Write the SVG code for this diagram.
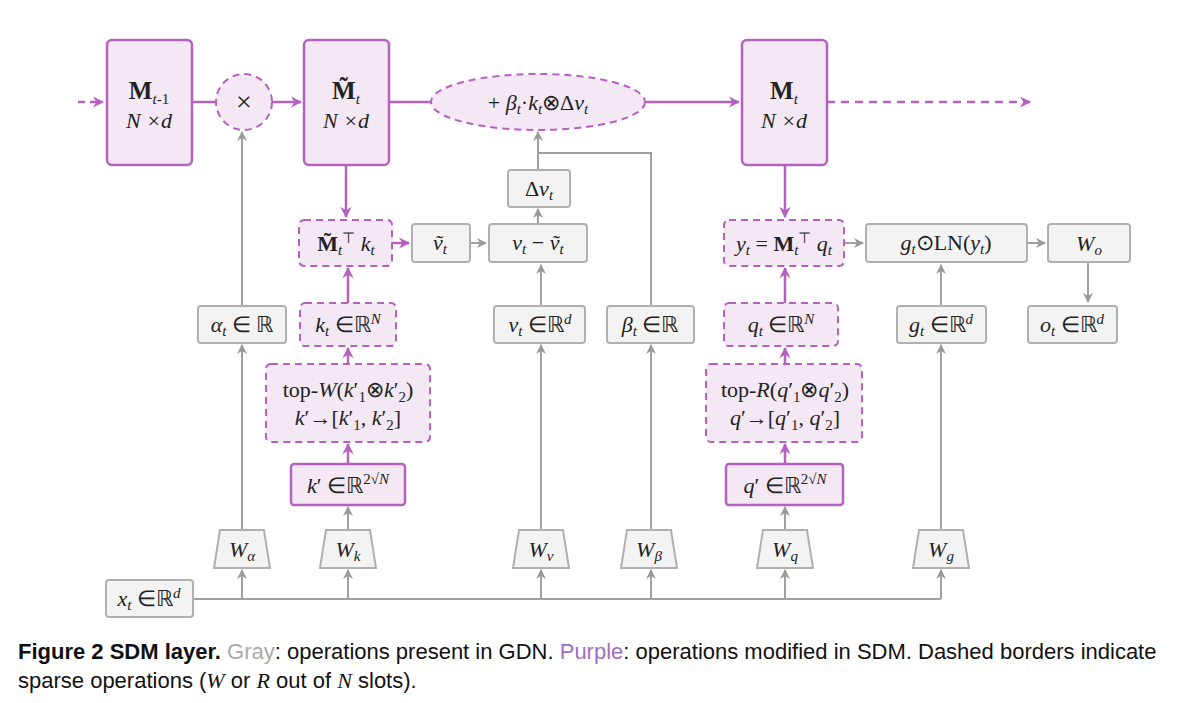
<svg xmlns="http://www.w3.org/2000/svg" width="1200" height="703" viewBox="0 0 1200 703">
<style>
.p{fill:#f4e8f5;stroke:#b561c0;stroke-width:2.5}
.pd{fill:#f4e8f5;stroke:#b561c0;stroke-width:2;stroke-dasharray:7 5}
.g{fill:#f3f3f3;stroke:#b0b0b0;stroke-width:2}
.t{font-family:"Liberation Serif",serif;font-size:22px;fill:#222;text-anchor:middle}
.i{font-style:italic}
.b{font-weight:bold}
.s{font-size:15px}
.lg{stroke:#a0a0a0;stroke-width:2;fill:none}
.lp{stroke:#b561c0;stroke-width:2.5;fill:none}
.cap{font-family:"Liberation Sans",sans-serif;font-size:22px;fill:#111}
</style>
<defs>
<marker id="ag" viewBox="0 0 10 10" refX="9" refY="5" markerWidth="5" markerHeight="5" orient="auto"><path d="M0,0 L10,5 L0,10 L3,5z" fill="#999"/></marker>
<marker id="ap" viewBox="0 0 10 10" refX="9" refY="5" markerWidth="4.5" markerHeight="4.5" orient="auto"><path d="M0,0 L10,5 L0,10 L3,5z" fill="#b561c0"/></marker>
</defs>
<rect width="1200" height="703" fill="#fff"/>
<g id="connectors">
<path class="lp" d="M78,102 H103" stroke-dasharray="7 5" stroke-width="2" marker-end="url(#ap)"/>
<path class="lp" d="M192,102 H216"/>
<path class="lp" d="M272,102 H301" marker-end="url(#ap)"/>
<path class="lp" d="M389,102 H431"/>
<path class="lp" d="M645,102 H739" marker-end="url(#ap)"/>
<path class="lp" d="M827,102 H1030" stroke-dasharray="8 6" stroke-width="2" marker-end="url(#ap)"/>
<path class="lp" d="M346,165 V217" stroke-width="2" marker-end="url(#ap)"/>
<path class="lp" d="M785,165 V217" stroke-width="2" marker-end="url(#ap)"/>
<path class="lp" d="M392,243 H409" stroke-width="2" marker-end="url(#ap)"/>
<path class="lg" d="M470,243 H486" marker-end="url(#ag)"/>
<path class="lg" d="M538,224 V209" marker-end="url(#ag)"/>
<path class="lg" d="M538,170 V132" marker-end="url(#ag)"/>
<path class="lg" d="M651,306 V153 H538"/>
<path class="lg" d="M242,306 V132" marker-end="url(#ag)"/>
<path class="lp" d="M348,303 V268" stroke-width="2" marker-end="url(#ap)"/>
<path class="lp" d="M785,303 V268" stroke-width="2" marker-end="url(#ap)"/>
<path class="lp" d="M348,364 V348" stroke-width="2" marker-end="url(#ap)"/>
<path class="lp" d="M785,364 V348" stroke-width="2" marker-end="url(#ap)"/>
<path class="lp" d="M348,464 V444" stroke-width="2" marker-end="url(#ap)"/>
<path class="lp" d="M785,464 V444" stroke-width="2" marker-end="url(#ap)"/>
<path class="lg" d="M844,243 H863" marker-end="url(#ag)"/>
<path class="lg" d="M1027,243 H1045" marker-end="url(#ag)"/>
<path class="lg" d="M1088,262 V302" marker-end="url(#ag)"/>
<path class="lg" d="M541,306 V265" marker-end="url(#ag)"/>
<path class="lg" d="M941,306 V265" marker-end="url(#ag)"/>
<path class="lg" d="M242,530 V345" marker-end="url(#ag)"/>
<path class="lg" d="M348,530 V507" marker-end="url(#ag)"/>
<path class="lg" d="M785,530 V507" marker-end="url(#ag)"/>
<path class="lg" d="M541,530 V345" marker-end="url(#ag)"/>
<path class="lg" d="M651,530 V345" marker-end="url(#ag)"/>
<path class="lg" d="M941,530 V345" marker-end="url(#ag)"/>
<path class="lg" d="M193,599 H941"/>
<path class="lg" d="M242,599 V570" marker-end="url(#ag)"/>
<path class="lg" d="M348,599 V570" marker-end="url(#ag)"/>
<path class="lg" d="M541,599 V570" marker-end="url(#ag)"/>
<path class="lg" d="M651,599 V570" marker-end="url(#ag)"/>
<path class="lg" d="M785,599 V570" marker-end="url(#ag)"/>
<path class="lg" d="M941,599 V570" marker-end="url(#ag)"/>
</g>
<g id="Mprev"><rect class="p" x="107" y="40" width="85" height="125" rx="5"/><text class="t" x="149" y="99" style="font-size:25px"><tspan class="b">M</tspan><tspan class="i s" dy="5">t</tspan><tspan class="s">-1</tspan></text><text class="t i" x="149" y="128">N ×d</text></g>
<g id="mult"><circle class="pd" cx="244" cy="102" r="28"/><text class="t" x="244" y="111" style="font-size:28px">×</text></g>
<g id="Mtilde"><rect class="p" x="304" y="40" width="85" height="125" rx="5"/><text class="t" x="346" y="99" style="font-size:25px"><tspan class="b">M̃</tspan><tspan class="i s" dy="5">t</tspan></text><text class="t i" x="346" y="128">N ×d</text></g>
<g id="update"><ellipse class="pd" cx="538" cy="102" rx="107" ry="28"/><text class="t" x="538" y="110">+ <tspan class="i">β</tspan><tspan class="i s" dy="4">t</tspan><tspan dy="-4">·</tspan><tspan class="i">k</tspan><tspan class="i s" dy="4">t</tspan><tspan dy="-4">⊗Δ</tspan><tspan class="i">v</tspan><tspan class="i s" dy="4">t</tspan></text></g>
<g id="Mt"><rect class="p" x="742" y="40" width="85" height="125" rx="5"/><text class="t" x="784" y="99" style="font-size:25px"><tspan class="b">M</tspan><tspan class="i s" dy="5">t</tspan></text><text class="t i" x="784" y="128">N ×d</text></g>
<g id="dv"><rect class="g" x="508" y="170" width="62" height="37" rx="3"/><text class="t" x="539" y="196">Δ<tspan class="i">v</tspan><tspan class="i s" dy="4">t</tspan></text></g>
<g id="Mk"><rect class="pd" x="299" y="220" width="93" height="46" rx="5"/><text class="t" x="346" y="251"><tspan class="b">M̃</tspan><tspan class="i s" dy="4">t</tspan><tspan class="s" dy="-12">⊤</tspan><tspan class="i" dy="8"> k</tspan><tspan class="i s" dy="4">t</tspan></text></g>
<g id="vtil"><rect class="g" x="412" y="224" width="58" height="38" rx="3"/><text class="t i" x="440" y="250">ṽ<tspan class="s" dy="4">t</tspan></text></g>
<g id="vdiff"><rect class="g" x="489" y="224" width="98" height="38" rx="3"/><text class="t" x="538" y="250"><tspan class="i">v</tspan><tspan class="i s" dy="4">t</tspan><tspan dy="-4"> − </tspan><tspan class="i">ṽ</tspan><tspan class="i s" dy="4">t</tspan></text></g>
<g id="yt"><rect class="pd" x="724" y="220" width="120" height="46" rx="5"/><text class="t" x="784" y="251"><tspan class="i">y</tspan><tspan class="i s" dy="4">t</tspan><tspan dy="-4"> = </tspan><tspan class="b">M</tspan><tspan class="i s" dy="4">t</tspan><tspan class="s" dy="-12">⊤</tspan><tspan class="i" dy="8"> q</tspan><tspan class="i s" dy="4">t</tspan></text></g>
<g id="gln"><rect class="g" x="866" y="224" width="161" height="38" rx="3"/><text class="t" x="946" y="250"><tspan class="i">g</tspan><tspan class="i s" dy="4">t</tspan><tspan dy="-4">⊙LN(</tspan><tspan class="i">y</tspan><tspan class="i s" dy="4">t</tspan><tspan dy="-4">)</tspan></text></g>
<g id="Wo"><rect class="g" x="1048" y="224" width="82" height="38" rx="3"/><text class="t" x="1089" y="251"><tspan class="i">W</tspan><tspan class="i s" dy="4">o</tspan></text></g>
<g id="alpha"><rect class="g" x="198" y="306" width="88" height="37" rx="3"/><text class="t" x="242" y="332"><tspan class="i">α</tspan><tspan class="i s" dy="4">t</tspan><tspan dy="-4"> ∈ ℝ</tspan></text></g>
<g id="kt"><rect class="pd" x="300" y="303" width="96" height="43" rx="5"/><text class="t" x="348" y="332"><tspan class="i">k</tspan><tspan class="i s" dy="4">t</tspan><tspan dy="-4"> ∈ℝ</tspan><tspan class="i s" dy="-8">N</tspan></text></g>
<g id="vt"><rect class="g" x="494" y="306" width="91" height="37" rx="3"/><text class="t" x="540" y="332"><tspan class="i">v</tspan><tspan class="i s" dy="4">t</tspan><tspan dy="-4"> ∈ℝ</tspan><tspan class="i s" dy="-8">d</tspan></text></g>
<g id="beta"><rect class="g" x="607" y="306" width="87" height="37" rx="3"/><text class="t" x="650" y="332"><tspan class="i">β</tspan><tspan class="i s" dy="4">t</tspan><tspan dy="-4"> ∈ℝ</tspan></text></g>
<g id="qt"><rect class="pd" x="724" y="303" width="114" height="43" rx="5"/><text class="t" x="781" y="332"><tspan class="i">q</tspan><tspan class="i s" dy="4">t</tspan><tspan dy="-4"> ∈ℝ</tspan><tspan class="i s" dy="-8">N</tspan></text></g>
<g id="gt"><rect class="g" x="897" y="306" width="89" height="37" rx="3"/><text class="t" x="941" y="332"><tspan class="i">g</tspan><tspan class="i s" dy="4">t</tspan><tspan dy="-4"> ∈ℝ</tspan><tspan class="i s" dy="-8">d</tspan></text></g>
<g id="ot"><rect class="g" x="1028" y="306" width="89" height="37" rx="3"/><text class="t" x="1072" y="332"><tspan class="i">o</tspan><tspan class="i s" dy="4">t</tspan><tspan dy="-4"> ∈ℝ</tspan><tspan class="i s" dy="-8">d</tspan></text></g>
<g id="topW"><rect class="pd" x="266" y="364" width="164" height="78" rx="5"/><text class="t" x="348" y="397">top-<tspan class="i">W</tspan>(<tspan class="i">k</tspan>′<tspan class="s" dy="5">1</tspan><tspan dy="-5">⊗</tspan><tspan class="i">k</tspan>′<tspan class="s" dy="5">2</tspan><tspan dy="-5">)</tspan></text><text class="t" x="348" y="425"><tspan class="i">k</tspan>′→[<tspan class="i">k</tspan>′<tspan class="s" dy="5">1</tspan><tspan dy="-5">, </tspan><tspan class="i">k</tspan>′<tspan class="s" dy="5">2</tspan><tspan dy="-5">]</tspan></text></g>
<g id="kp"><rect class="p" x="291" y="464" width="114" height="41" rx="3" stroke-width="2"/><text class="t" x="348" y="493"><tspan class="i">k</tspan>′ ∈ℝ<tspan class="s" dy="-9">2√<tspan class="i">N</tspan></tspan></text></g>
<g id="topR"><rect class="pd" x="706" y="364" width="156" height="78" rx="5"/><text class="t" x="785" y="397">top-<tspan class="i">R</tspan>(<tspan class="i">q</tspan>′<tspan class="s" dy="5">1</tspan><tspan dy="-5">⊗</tspan><tspan class="i">q</tspan>′<tspan class="s" dy="5">2</tspan><tspan dy="-5">)</tspan></text><text class="t" x="785" y="425"><tspan class="i">q</tspan>′→[<tspan class="i">q</tspan>′<tspan class="s" dy="5">1</tspan><tspan dy="-5">, </tspan><tspan class="i">q</tspan>′<tspan class="s" dy="5">2</tspan><tspan dy="-5">]</tspan></text></g>
<g id="qp"><rect class="p" x="726" y="464" width="117" height="41" rx="3" stroke-width="2"/><text class="t" x="785" y="493"><tspan class="i">q</tspan>′ ∈ℝ<tspan class="s" dy="-9">2√<tspan class="i">N</tspan></tspan></text></g>
<g id="Walpha"><path class="g" d="M214,568 L220,530 H264 L270,568z"/><text class="t" x="242" y="557"><tspan class="i">W</tspan><tspan class="i s" dy="4">α</tspan></text></g>
<g id="Wk"><path class="g" d="M320,568 L326,530 H370 L376,568z"/><text class="t" x="348" y="557"><tspan class="i">W</tspan><tspan class="i s" dy="4">k</tspan></text></g>
<g id="Wv"><path class="g" d="M513,568 L519,530 H563 L569,568z"/><text class="t" x="541" y="557"><tspan class="i">W</tspan><tspan class="i s" dy="4">v</tspan></text></g>
<g id="Wbeta"><path class="g" d="M621,568 L627,530 H671 L677,568z"/><text class="t" x="649" y="557"><tspan class="i">W</tspan><tspan class="i s" dy="4">β</tspan></text></g>
<g id="Wq"><path class="g" d="M757,568 L763,530 H807 L813,568z"/><text class="t" x="785" y="557"><tspan class="i">W</tspan><tspan class="i s" dy="4">q</tspan></text></g>
<g id="Wg"><path class="g" d="M913,568 L919,530 H963 L969,568z"/><text class="t" x="941" y="557"><tspan class="i">W</tspan><tspan class="i s" dy="4">g</tspan></text></g>
<g id="xt"><rect class="g" x="106" y="580" width="87" height="37" rx="3"/><text class="t" x="149" y="606"><tspan class="i">x</tspan><tspan class="i s" dy="4">t</tspan><tspan dy="-4"> ∈ℝ</tspan><tspan class="i s" dy="-8">d</tspan></text></g>
<text class="cap" x="18" y="659"><tspan font-weight="bold">Figure 2  SDM layer.</tspan> <tspan fill="#aaa">Gray</tspan>: operations present in GDN. <tspan fill="#a070c0">Purple</tspan>: operations modified in SDM. Dashed borders indicate</text>
<text class="cap" x="18" y="688">sparse operations (<tspan font-family="Liberation Serif" font-style="italic">W</tspan> or <tspan font-family="Liberation Serif" font-style="italic">R</tspan> out of <tspan font-family="Liberation Serif" font-style="italic">N</tspan> slots).</text>
</svg>
